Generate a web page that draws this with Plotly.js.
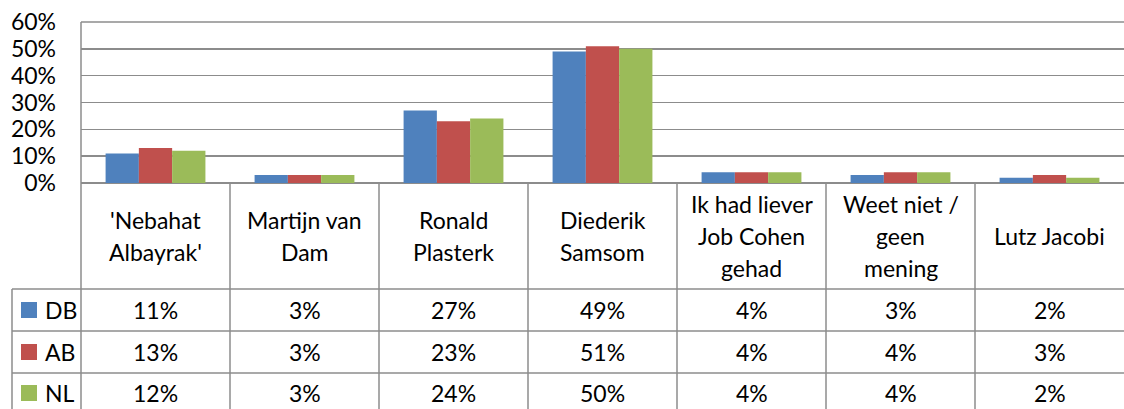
<!DOCTYPE html>
<html>
<head>
<meta charset="utf-8">
<script src="https://cdn.plot.ly/plotly-3.0.1.min.js"></script>
<style>html,body{margin:0;padding:0;background:#fff;}#chart{width:1124px;height:409px;}</style>
</head>
<body>
<div id="chart"></div>
<script>
// ---- data ----
var categories = ["'Nebahat<br>Albayrak'", "Martijn van<br>Dam", "Ronald<br>Plasterk", "Diederik<br>Samsom", "Ik had liever<br>Job Cohen<br>gehad", "Weet niet /<br>geen<br>mening", "Lutz Jacobi"];
var seriesNames = ["DB", "AB", "NL"];
var valuesDB = [0.11, 0.03, 0.27, 0.49, 0.04, 0.03, 0.02];
var valuesAB = [0.13, 0.03, 0.23, 0.51, 0.04, 0.04, 0.03];
var valuesNL = [0.12, 0.03, 0.24, 0.50, 0.04, 0.04, 0.02];
var tickValues = [0, 0.1, 0.2, 0.3, 0.4, 0.5, 0.6];
var tickLabels = ["0%", "10%", "20%", "30%", "40%", "50%", "60%"];

// ---- style ----
var colors = ["#4F81BD", "#C0504D", "#9BBB59"];
var FONT = "Lato, 'Open Sans', sans-serif";
var FS = 23;
var W = 1124, H = 409;
var PL = 81, PT = 22, PB = 183; // plot area pixels
var gridColor = "#8c8c8c";

function py(p) { return (PB - p) / (PB - PT); }      // pixel y -> paper y
function px(p) { return (p - PL) / (W - PL); }        // pixel x -> paper x

var allValues = [valuesDB, valuesAB, valuesNL];
var traces = allValues.map(function (v, i) {
  return {
    type: "bar", x: categories, y: v, name: seriesNames[i],
    marker: { color: colors[i], line: { width: 0 } },
    hoverinfo: "none"
  };
});

var shapes = [];
var lineStyle = { color: gridColor, width: 1.5 };
function addLine(x0, y0, x1, y1) {
  shapes.push({ type: "line", xref: "paper", yref: "paper", x0: x0, y0: y0, x1: x1, y1: y1, line: lineStyle, layer: "above" });
}
var tableBottom = py(420);
// top border of plot area and left border
addLine(0, 1, 1, 1);
addLine(0, 1, 0, tableBottom);
// column separators in table
for (var k = 1; k < categories.length; k++) {
  addLine(k / categories.length, 0, k / categories.length, tableBottom);
}
// row lines
var rowLines = [289, 331, 373];
rowLines.forEach(function (r) { addLine(px(12), py(r), 1, py(r)); });
// legend column left border
addLine(px(12), py(289), px(12), tableBottom);
// swatches
var rowCenters = [310, 352, 393];
seriesNames.forEach(function (n, i) {
  shapes.push({ type: "rect", xref: "paper", yref: "paper",
    x0: px(21), x1: px(37), y0: py(rowCenters[i] + 8), y1: py(rowCenters[i] - 8),
    fillcolor: colors[i], line: { width: 0 }, layer: "above" });
});

var annotations = [];
// header text, one annotation per line
var headerCenter = 236, linePitch = 32;
categories.forEach(function (c) {
  var lines = c.split("<br>");
  lines.forEach(function (ln, j) {
    var yc = headerCenter + (j - (lines.length - 1) / 2) * linePitch;
    annotations.push({ xref: "x", yref: "paper", x: c, y: py(yc), text: ln, showarrow: false,
      xanchor: "center", yanchor: "middle", font: { family: FONT, size: FS, color: "#000" } });
  });
});
// table values
allValues.forEach(function (v, i) {
  v.forEach(function (val, j) {
    annotations.push({ xref: "x", yref: "paper", x: categories[j], y: py(rowCenters[i]),
      text: Math.round(val * 100) + "%", showarrow: false, xanchor: "center", yanchor: "middle",
      font: { family: FONT, size: FS, color: "#000" } });
  });
  annotations.push({ xref: "paper", yref: "paper", x: px(43), y: py(rowCenters[i]),
    text: seriesNames[i], showarrow: false, xanchor: "left", yanchor: "middle",
    font: { family: FONT, size: FS, color: "#000" } });
});

var layout = {
  width: W, height: H,
  margin: { l: PL, r: 0, t: PT, b: H - PB, pad: 0 },
  paper_bgcolor: "#fff", plot_bgcolor: "#fff",
  showlegend: false,
  barmode: "group", bargap: 0.33, bargroupgap: 0,
  xaxis: { type: "category", range: [-0.5, categories.length - 0.5], showticklabels: false,
    showgrid: false, showline: false, zeroline: false, ticks: "", fixedrange: true },
  yaxis: { range: [0, 0.6], tickvals: tickValues, ticktext: tickLabels, showgrid: true,
    gridcolor: gridColor, gridwidth: 1.5, zeroline: true, zerolinecolor: gridColor, zerolinewidth: 1.5,
    showline: false, ticks: "", ticklabelstandoff: 24,
    tickfont: { family: FONT, size: FS, color: "#000" }, fixedrange: true },
  shapes: shapes,
  annotations: annotations
};

Plotly.newPlot("chart", traces, layout, { displayModeBar: false, staticPlot: true });
</script>
</body>
</html>
